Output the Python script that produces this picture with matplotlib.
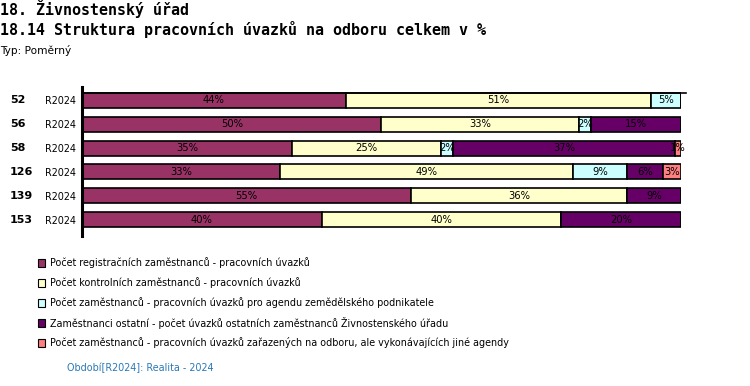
import matplotlib
matplotlib.use("Agg")
import matplotlib.pyplot as plt
from matplotlib.patches import Rectangle
import matplotlib.transforms as mtransforms

W, H = 750, 386
DPI = 100

row_ids = ["52", "56", "58", "126", "139", "153"]
period = ["R2024"] * 6
series_names = [
    "Počet registračních zaměstnanců - pracovních úvazků",
    "Počet kontrolních zaměstnanců - pracovních úvazků",
    "Počet zaměstnanců - pracovních úvazků pro agendu zemědělského podnikatele",
    "Zaměstnanci ostatní - počet úvazků ostatních zaměstnanců Živnostenského úřadu",
    "Počet zaměstnanců - pracovních úvazků zařazených na odboru, ale vykonávajících jiné agendy",
]
registracni = [44, 50, 35, 33, 55, 40]
kontrolni = [51, 33, 25, 49, 36, 40]
zemedelsky = [5, 2, 2, 9, 0, 0]
ostatni = [0, 15, 37, 6, 9, 20]
jine = [0, 0, 1, 3, 0, 0]
colors = ["#993366", "#FFFFCC", "#CCFFFF", "#660066", "#FF8080"]

series = [registracni, kontrolni, zemedelsky, ostatni, jine]

fig = plt.figure(figsize=(W / DPI, H / DPI), dpi=DPI)
fig.patch.set_facecolor("white")

def fx(x):
    return x / W

def fy(y):
    return 1 - y / H

# axes: x 82..681 px, y 87..236 px
ax = fig.add_axes([fx(82), fy(236), (681 - 82) / W, (236 - 87) / H])
ax.set_xlim(0, 100)
ax.set_ylim(5.667, -0.542)
for s in ["top", "right", "bottom"]:
    ax.spines[s].set_visible(False)
ax.spines["left"].set_linewidth(2.2)
ax.set_xticks([])
ax.set_yticks(range(len(row_ids)))
ax.set_yticklabels(period, fontsize=6.9, family="DejaVu Sans")
ax.tick_params(axis="y", length=0, pad=4)

bh = 0.625
n = len(row_ids)
lefts = [0.0] * n
for vals, col in zip(series, colors):
    ax.barh(range(n), vals, left=lefts, height=bh, color=col,
            edgecolor="black", linewidth=1.2)
    for i, v in enumerate(vals):
        if v > 0:
            ax.text(lefts[i] + v / 2, i, f"{v}%", ha="center", va="center",
                    fontsize=7.2, color="black", family="DejaVu Sans")
    lefts = [l + v for l, v in zip(lefts, vals)]

# top line extending beyond the bars
ax.plot([0, 100.8], [-bh / 2, -bh / 2], color="black", lw=1.2, clip_on=False)

# row ids
trans = mtransforms.blended_transform_factory(fig.transFigure, ax.transData)
for i, rid in enumerate(row_ids):
    fig.text(fx(10), i, rid, transform=trans, fontsize=8, fontweight="bold",
             va="center", ha="left", family="DejaVu Sans")

# titles
fig.text(fx(0), fy(9), "18. Živnostenský úřad", fontsize=10.8, fontweight="bold",
         family="DejaVu Sans Mono", va="center", ha="left")
fig.text(fx(0), fy(30), "18.14 Struktura pracovních úvazků na odboru celkem v %",
         fontsize=10.8, fontweight="bold", family="DejaVu Sans Mono",
         va="center", ha="left")
fig.text(fx(0), fy(50), "Typ: Poměrný", fontsize=7.6, family="DejaVu Sans",
         va="center", ha="left")

# legend
for k, (name, col) in enumerate(zip(series_names, colors)):
    yc = 263 + 20 * k
    fig.patches.append(Rectangle((fx(38), fy(yc + 4)), 7 / W, 8 / H,
                                 transform=fig.transFigure, facecolor=col,
                                 edgecolor="black", linewidth=0.8))
    fig.text(fx(50), fy(yc), name, fontsize=6.9, family="DejaVu Sans",
             va="center", ha="left")

fig.text(fx(67), fy(368), "Období[R2024]: Realita - 2024", fontsize=6.9,
         family="DejaVu Sans", color="#2878B8", va="center", ha="left")

fig.savefig("out.png", dpi=DPI)
